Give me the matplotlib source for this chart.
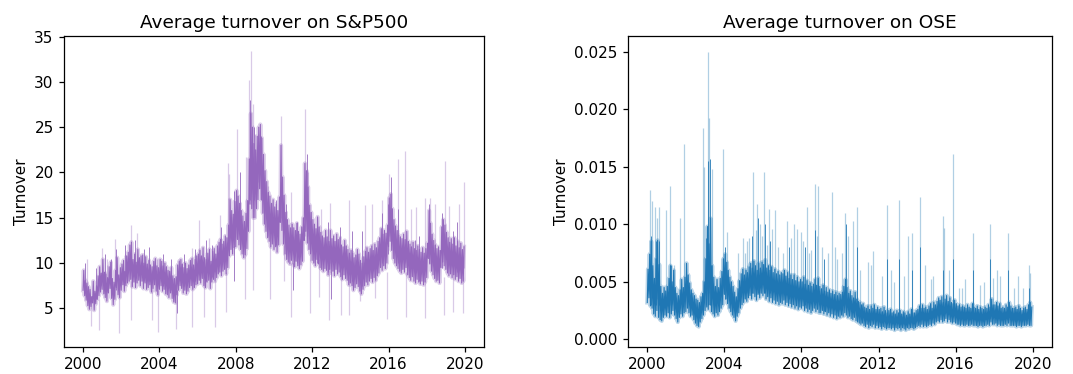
import numpy as np
import pandas as pd
import matplotlib
matplotlib.use("Agg")
import matplotlib.pyplot as plt
import matplotlib.dates as mdates

# ---------------- data (semi-monthly readings) ----------------
sp_2000 = [7.0,9.2,6.4,8.1,5.9,7.8,5.3,7.4,4.9,7.1,5.2,6.3,5.6,8.0,4.8,6.9,5.5,7.5,6.0,8.6,6.4,9.6,6.8,8.9]
sp_2001 = [7.1,10.4,6.6,9.0,6.2,8.8,5.8,8.4,6.7,9.6,7.2,10.1,6.1,8.3,5.4,7.9,6.0,9.2,7.3,10.6,6.5,8.7,6.2,9.5]
sp_2002 = [7.0,9.9,7.6,10.3,6.9,9.1,7.5,10.8,7.8,11.2,8.0,12.0,8.2,12.3,7.4,10.4,7.9,11.0,7.3,10.1,7.8,11.5,8.1,10.6]
sp_2003 = [7.5,10.8,8.0,10.9,7.2,10.0,7.8,10.7,7.1,9.9,7.3,10.3,7.6,9.8,6.8,9.6,7.2,10.2,7.6,10.5,6.9,9.7,6.5,9.5]
sp_2004 = [7.1,10.4,7.5,10.2,6.9,9.7,7.1,10.0,6.6,9.6,6.5,9.2,6.2,9.1,6.7,9.5,6.1,8.6,5.7,8.3,5.6,8.5,6.5,9.8]
sp_2005 = [7.0,10.2,7.5,10.4,7.2,9.9,6.7,9.5,7.0,10.0,6.6,9.4,6.9,9.8,7.3,10.3,7.5,10.5,7.1,9.8,7.3,10.4,7.6,10.8]
sp_2006 = [7.7,11.0,8.1,11.4,7.8,10.8,8.3,11.7,7.5,10.6,7.3,10.4,7.9,11.1,8.1,11.5,7.2,10.2,7.9,11.3,8.2,11.6,8.0,11.0]
sp_2007 = [8.4,11.9,8.8,12.3,9.0,12.6,8.6,12.1,9.1,12.4,9.3,13.0,8.8,12.8,9.5,14.2,10.8,17.0,11.5,15.8,11.0,15.4,11.7,16.8]
sp_2008 = [11.8,18.0,12.6,17.4,12.0,16.6,11.5,15.8,11.0,15.2,10.6,14.6,10.9,15.5,11.6,16.9,13.5,21.5,16.5,26.5,16.0,25.0,15.0,23.2]
sp_2009 = [15.0,22.5,16.0,24.0,17.0,25.0,18.2,25.3,17.0,23.8,15.5,22.0,14.3,20.2,13.5,19.0,12.8,17.8,12.4,17.4,11.8,16.6,12.1,17.0]
sp_2010 = [11.5,16.2,11.8,16.5,11.2,15.8,12.0,17.3,14.5,23.0,13.6,19.5,12.1,17.5,11.0,15.6,10.4,14.8,10.1,14.2,9.9,13.9,10.3,14.3]
sp_2011 = [9.9,13.9,9.6,13.6,10.2,14.4,9.7,13.5,9.4,13.2,9.8,14.0,10.2,15.0,12.5,21.0,13.5,20.2,12.2,18.4,11.5,16.4,11.0,15.6]
sp_2012 = [10.3,14.8,10.0,14.3,9.7,13.8,10.4,15.1,9.9,14.0,9.5,13.4,9.3,13.0,9.1,12.8,9.4,13.6,9.2,12.9,8.7,12.4,9.3,13.6]
sp_2013 = [8.9,12.7,9.1,13.0,8.6,12.4,9.3,13.2,8.8,12.6,9.0,12.8,8.5,12.0,8.2,11.8,8.7,12.5,8.3,11.9,8.1,11.5,7.6,11.1]
sp_2014 = [7.8,11.4,7.5,11.1,7.0,10.6,7.3,10.9,7.7,11.5,7.4,11.0,6.9,10.3,6.6,10.0,7.1,10.7,7.5,11.3,7.9,11.7,7.6,11.2]
sp_2015 = [8.0,11.6,8.3,11.9,7.9,11.4,8.4,12.1,8.1,11.7,8.6,12.4,8.9,12.8,9.5,13.8,9.2,13.2,9.7,13.6,9.4,13.3,10.0,14.2]
sp_2016 = [11.8,17.2,12.4,17.6,11.4,16.0,10.5,14.8,10.0,14.1,9.7,13.6,9.4,13.1,9.1,12.9,8.9,12.7,9.3,13.2,9.0,12.6,9.5,13.5]
sp_2017 = [8.7,12.4,8.4,12.1,8.1,11.8,8.5,12.3,8.0,11.6,7.8,11.4,8.2,11.9,7.9,11.5,7.7,11.2,8.0,11.7,7.6,11.1,7.9,11.6]
sp_2018 = [8.4,12.2,10.5,15.8,9.9,14.4,9.1,13.2,8.7,12.5,8.3,12.0,8.0,11.6,8.1,11.8,7.8,11.4,9.5,14.0,10.1,14.8,9.7,14.2]
sp_2019 = [9.3,13.4,8.9,12.8,8.6,12.3,8.8,12.7,8.4,12.1,8.7,12.8,8.2,11.9,8.5,12.4,8.0,11.7,8.3,12.2,7.8,11.5,8.0,11.8]

# OSE readings, in thousandths
ose_2000 = [3.2,6.1,3.6,7.4,2.9,8.5,2.7,6.4,2.2,5.3,2.0,7.0,2.5,8.6,1.9,6.5,1.7,4.6,1.6,4.0,1.9,4.5,2.1,4.2]
ose_2001 = [2.0,4.6,2.3,5.3,1.9,6.4,2.2,5.0,2.5,6.0,2.1,4.5,1.8,4.0,1.5,3.8,1.9,4.3,2.2,5.2,2.0,4.5,2.3,5.4]
ose_2002 = [2.4,6.6,2.7,5.6,2.3,4.9,2.0,4.3,2.1,4.0,1.7,3.8,1.4,3.5,1.2,3.4,1.1,3.2,1.5,3.7,1.8,4.0,2.1,5.0]
ose_2003 = [2.5,7.0,2.8,9.8,2.6,8.3,3.0,10.5,2.4,6.4,2.2,5.4,2.0,4.6,2.3,5.2,2.1,4.5,2.4,5.3,2.7,5.9,3.0,7.0]
ose_2004 = [3.9,7.4,3.5,6.7,3.1,6.0,2.7,5.4,2.4,5.0,2.1,4.6,1.9,4.1,1.6,3.7,2.0,4.4,2.3,5.1,2.7,5.7,3.0,6.1]
ose_2005 = [3.2,5.6,3.5,6.0,3.3,5.8,3.6,6.3,3.8,6.6,3.5,6.2,4.0,6.8,3.7,6.4,3.4,6.0,3.9,6.6,3.6,6.2,4.0,6.7]
ose_2006 = [3.8,6.5,4.0,6.9,3.5,6.2,3.7,6.4,3.3,6.0,3.6,6.3,3.2,5.8,3.4,6.1,3.1,5.7,3.3,5.9,3.0,5.6,3.2,5.8]
ose_2007 = [3.1,5.7,3.4,6.0,3.0,5.5,3.2,5.8,2.9,5.3,3.1,5.6,2.8,5.2,3.0,5.6,2.7,5.1,2.9,5.4,2.6,5.0,2.8,5.2]
ose_2008 = [2.7,5.0,2.9,5.4,2.5,4.8,2.7,5.1,2.4,4.7,2.6,4.9,2.3,4.6,2.5,4.8,2.7,5.2,2.4,4.7,2.6,5.3,2.3,4.6]
ose_2009 = [2.3,4.4,2.5,4.7,2.2,4.2,2.4,4.5,2.1,4.1,2.3,4.3,2.0,4.0,2.2,4.2,1.9,3.9,2.1,4.1,1.8,3.8,2.0,4.0]
ose_2010 = [1.9,3.9,2.1,4.1,2.0,4.6,2.3,5.2,2.1,4.5,1.9,4.0,2.0,4.2,1.8,3.8,1.7,3.6,1.9,4.1,1.6,3.5,1.5,3.3]
ose_2011 = [1.4,3.2,1.3,3.0,1.4,3.1,1.2,2.8,1.1,2.7,1.3,2.9,1.0,2.6,1.2,2.9,1.1,2.7,1.3,3.0,1.0,2.6,1.2,2.8]
ose_2012 = [1.0,2.6,1.1,2.7,0.9,2.4,1.1,2.8,1.0,2.5,0.9,2.3,1.0,2.5,1.0,2.6,0.9,2.3,1.0,2.4,0.8,2.2,1.0,2.5]
ose_2013 = [0.9,2.3,1.0,2.5,0.8,2.2,1.0,2.4,0.9,2.3,0.8,2.1,1.0,2.4,0.9,2.2,1.0,2.6,1.0,2.3,0.9,2.3,1.0,2.5]
ose_2014 = [1.1,2.6,1.2,2.9,1.1,2.7,1.3,3.0,1.1,2.7,1.2,2.8,1.1,2.6,1.2,2.9,1.3,3.1,1.2,2.7,1.4,3.2,1.3,3.0]
ose_2015 = [1.5,3.3,1.6,3.6,1.5,3.4,1.7,3.7,1.5,3.2,1.6,3.5,1.8,3.8,1.5,3.3,1.7,3.6,1.5,3.2,1.4,3.1,1.5,3.4]
ose_2016 = [1.4,3.1,1.3,2.9,1.3,3.0,1.2,2.8,1.3,2.9,1.2,2.8,1.2,2.7,1.3,3.0,1.2,2.8,1.2,2.7,1.3,3.1,1.2,2.8]
ose_2017 = [1.2,2.7,1.2,2.9,1.1,2.6,1.2,2.8,1.2,2.7,1.1,2.6,1.2,2.8,1.2,2.7,1.3,3.0,1.2,2.8,1.5,3.5,1.3,3.0]
ose_2018 = [1.3,3.0,1.4,3.2,1.2,2.9,1.3,3.1,1.2,2.7,1.2,2.8,1.2,2.7,1.3,3.0,1.2,2.8,1.4,3.2,1.2,2.9,1.2,2.7]
ose_2019 = [1.2,2.7,1.2,2.8,1.1,2.6,1.2,2.9,1.2,2.7,1.1,2.5,1.2,2.7,1.2,2.8,1.2,2.6,1.3,3.0,1.2,3.2,1.2,2.8]

# light spikes of the confidence band: (date, low end, high end)
sp_spike_dates = ["2000-03-10","2001-01-03","2001-04-10","2001-09-10","2002-07-05","2002-11-05","2003-11-10",
    "2005-01-10","2005-09-10","2006-01-20","2006-08-10","2007-02-27","2007-08-05","2007-08-20","2008-01-20",
    "2008-07-15","2008-09-15","2008-10-10","2008-11-20","2009-01-05","2009-03-10","2009-07-10","2009-09-10",
    "2010-05-06","2010-11-20","2011-08-08","2011-10-10","2012-06-10","2012-12-15","2013-12-10","2014-10-15",
    "2015-02-10","2015-08-24","2016-01-05","2016-06-24","2016-11-08","2017-03-10","2017-06-10","2017-12-01",
    "2018-03-10","2018-06-10","2018-12-21","2019-03-10","2019-09-10","2019-12-20",
    "2000-06-10","2000-11-10","2001-11-20","2002-07-01","2003-08-10","2003-11-28","2004-11-15","2005-09-15",
    "2006-05-10","2006-11-24","2007-07-03","2008-07-03","2008-11-28","2009-10-10","2010-07-10","2010-11-26",
    "2011-11-25","2012-05-10","2012-11-23","2013-07-03","2013-11-29","2014-07-03","2015-04-10","2015-11-27",
    "2016-11-25","2017-11-24","2018-11-23","2019-05-10","2019-11-29"]
sp_spike_lo = [7,8,8,8,9,9,8, 8,8.5,9,9,10,12,12,14, 13,18,20,19,19,19,14,13, 15,12,13,13,11,10,9,9,
    9.5,11,13,11,10,9.5,9.5,9, 11,9.5,12,10,9.5,9.5,
    3.1,2.6,2.3,3.7,3.7,2.4,2.7,3.0, 4.1,3.0,4.6,6,7,6,8,4.1, 4.5,6.3,3.7,4.3,4.3,5.8,6.2,3.8, 4.1,3.9,4.3,4.6,4.5]
sp_spike_hi = [10.5,11.7,10.5,12.7,14.2,13.3,10.5, 10.5,11.7,14.8,12.8,15.3,21,19.8,24.8, 21.7,30.2,33.4,27.6,24.3,24.2,19,18.5,
    26.2,17.9,27,20,16,16.6,17,16.4, 16.5,17,19.8,21.5,22.4,16,16.2,17.2, 17.2,16.5,21.3,16.3,16.5,19,
    6,6,7,8,8,7,7,7.5, 8,8,9,12,16,13,12,10, 11,10.5,9.5,9,8.5,8.5,9,9, 9,8.5,8.5,9,8.5]

# darker spikes of the mean line
sp_dark_dates = ["2000-02-15","2000-09-01","2001-02-15","2001-06-20","2001-10-01","2002-03-15","2002-09-20",
    "2003-03-20","2003-06-15","2004-03-15","2004-08-10","2005-04-20","2005-11-10","2006-06-15","2006-10-01",
    "2007-03-15","2007-11-20","2008-03-15","2008-10-01","2008-12-15","2009-04-20","2010-02-05","2010-08-10",
    "2011-03-15","2011-09-20","2012-04-10","2012-11-01","2013-06-20","2014-02-03","2014-08-05","2015-08-25",
    "2015-12-15","2016-02-10","2016-06-27","2017-05-17","2017-08-10","2018-02-06","2018-10-11","2019-05-13",
    "2019-08-05","2004-11-25","2007-11-23","2010-12-27","2012-12-24"]
sp_dark_lo = [7,6,7,6.5,7,8,8, 8,8,7.5,7,7.5,8,8,8.5, 9,12,12,17,17,17,12,11, 10,13,10,9,9,8,7.5,10,
    11,12,10,8,8,10,9.5,9, 9,4.5,8,7,6]
sp_dark_hi = [10,9.5,11,10.5,11.5,12,12.5, 11.5,11.8,11,10.5,11,11.5,12.5,12, 14,18,20,28,25,24,17,16.5,
    14.5,22,15,14.5,14,13.5,13.5,15.5, 16.5,19.5,16,12.5,13,16.5,15.5,13.5, 14.5,7,12,10,9]

ose_spike_dates = ["2000-03-01","2000-04-01","2000-05-25","2000-07-01","2000-08-10","2000-12-25","2001-03-10",
    "2001-05-25","2001-09-05","2001-12-05","2002-12-01","2002-12-20","2003-02-20","2003-03-25","2003-05-20",
    "2003-12-01","2004-02-28","2004-09-15","2004-12-28","2005-03-01","2005-07-05","2005-09-05","2005-11-10",
    "2006-01-22","2006-05-05","2006-08-15","2007-03-28","2007-10-01","2007-12-15","2008-04-08","2008-07-01",
    "2008-09-12","2008-11-18","2009-01-20","2009-07-25","2009-11-01","2010-04-05","2010-09-10","2010-11-10",
    "2011-06-20","2011-09-25","2012-06-01","2012-10-15","2013-01-25","2013-07-15","2013-09-20","2014-02-20",
    "2014-06-01","2014-09-20","2015-05-05","2015-06-01","2015-11-05","2016-03-01","2016-07-05","2016-11-30",
    "2017-04-05","2017-10-05","2017-12-15","2018-03-05","2018-09-20","2019-03-25","2019-10-15","2019-11-20",
    "2005-01-20","2005-04-10","2005-08-15","2005-12-10","2006-03-15","2006-06-20","2006-10-10","2007-01-15",
    "2007-06-10","2007-08-20","2008-01-25","2008-05-15","2008-10-15","2009-05-15","2009-09-20","2010-02-10",
    "2010-06-01","2011-01-20","2011-08-10","2012-03-01","2012-09-01","2013-05-01","2014-11-01","2015-09-01",
    "2016-05-01","2017-07-01","2018-05-01","2019-01-10","2019-07-01"]
ose_spike_lo = [4,4,3.5,3.5,3,2.5,3, 3,3,3.5,3.5,3.5,4,4,3.5, 4.5,4,3,3.5,4,4.5,5,4.5, 5,4.5,4.5,4,4,3.5,3.5,3.5,
    3.5,3.5,3,3,3,3,3,2.5, 2,2,2,1.8,1.8,1.7,1.7,2, 2,2,2.5,2.5,2.2,2,2,2, 2,2.2,2.2,2.2,2,2,2,2,
    4,4,4.5,4.5,4.5,4.5,4,4, 4,4,3.5,3.5,3.5,3,3,3, 3,2.5,2,2,1.8,1.8,2,2.2, 2,2,2,2,2]
ose_spike_hi = [13,12,11.5,10.5,11.5,11.2,13.3, 6.5,10.5,17,18.4,15,25,19.2,14.8, 16.5,9.3,7.5,8.8,8.5,14.5,11.8,10,
    14.5,11.3,11.2,10.3,9.6,9.3,11.5,7.8, 13.5,13.3,8,12.8,7,11,10.3,11.5, 6.7,7.7,11.7,5,12.1,9,9.2,12.4,
    6.5,5.2,10.7,9.7,16.1,4.5,5.2,9.2, 4.7,10,5.3,6,9.2,5.5,6.5,5.8,
    7.5,8.8,9.5,9,8.2,9.6,8,7.5, 8.8,10,8.5,7.5,9,7.5,8,7.5, 9,6,6.5,5.5,6,5.5,5.5,6, 4.5,5,5.5,4.5,4.5]

ose_dark_dates = ["2000-03-15","2000-06-15","2000-08-01","2001-03-20","2003-01-15","2003-02-25","2003-03-28",
    "2004-01-10","2005-06-10","2005-10-01","2006-02-01","2006-05-20","2007-05-15","2008-03-01","2008-09-20",
    "2009-03-01","2010-05-01","2010-11-15","2012-06-05","2013-01-30","2013-10-01","2014-02-25","2015-05-10",
    "2015-11-10","2016-12-05","2017-10-10","2018-09-25","2019-10-20"]
ose_dark_lo = [3,3,3,2.5,3,3,3, 3.5,4,4,4,4,3.5,3,3, 2.5,2.5,2.5,1.8,1.8,1.7,2,2.5, 2.2,2,2.2,2,2]
ose_dark_hi = [9,8.5,8.5,6.5,8.8,15.5,15.7, 8,9,10.5,10,8.5,8,8,9.5, 7,10,8,7,7,6,8,6, 7,6,7,6,4.5]

titles = ["Average turnover on S&P500", "Average turnover on OSE"]
colors = ["#9467bd", "#1f77b4"]

# ---------------- build series ----------------
dates = pd.date_range("2000-01-01", periods=480, freq="SMS")
sp_vals = np.concatenate([sp_2000, sp_2001, sp_2002, sp_2003, sp_2004, sp_2005, sp_2006, sp_2007, sp_2008, sp_2009,
                          sp_2010, sp_2011, sp_2012, sp_2013, sp_2014, sp_2015, sp_2016, sp_2017, sp_2018, sp_2019])
ose_vals = np.concatenate([ose_2000, ose_2001, ose_2002, ose_2003, ose_2004, ose_2005, ose_2006, ose_2007, ose_2008,
                           ose_2009, ose_2010, ose_2011, ose_2012, ose_2013, ose_2014, ose_2015, ose_2016, ose_2017,
                           ose_2018, ose_2019]) / 1000.0

series = [
    (sp_vals, pd.to_datetime(sp_spike_dates), np.array(sp_spike_lo, float), np.array(sp_spike_hi, float),
     pd.to_datetime(sp_dark_dates), np.array(sp_dark_lo, float), np.array(sp_dark_hi, float)),
    (ose_vals, pd.to_datetime(ose_spike_dates), np.array(ose_spike_lo, float) / 1000.0,
     np.array(ose_spike_hi, float) / 1000.0,
     pd.to_datetime(ose_dark_dates), np.array(ose_dark_lo, float) / 1000.0, np.array(ose_dark_hi, float) / 1000.0),
]

fig = plt.figure(figsize=(10.73, 3.74), dpi=100)
positions = [[0.0596, 0.0722, 0.3915, 0.8315], [0.5853, 0.0722, 0.3951, 0.8315]]
ylims = [(0.74, 35.06), (-0.00067, 0.02636)]

for i in range(2):
    ax = fig.add_axes(positions[i])
    vals, sd, slo, shi, dd, dlo, dhi = series[i]
    c = colors[i]
    ax.vlines(sd, slo, shi, color=c, alpha=0.35, linewidth=0.9)
    ax.plot(dates, vals, color=c, alpha=0.3, linewidth=3.0)
    ax.plot(dates, vals, color=c, linewidth=0.8)
    ax.vlines(dd, dlo, dhi, color=c, alpha=0.85, linewidth=0.7)
    ax.set_title(titles[i], fontsize=13.3)
    ax.set_ylabel("Turnover", fontsize=11)
    ax.set_xlim(mdates.date2num(pd.Timestamp("1999-01-01")), mdates.date2num(pd.Timestamp("2021-01-01")))
    ax.set_ylim(*ylims[i])
    ax.xaxis.set_major_locator(mdates.YearLocator(4))
    ax.xaxis.set_major_formatter(mdates.DateFormatter("%Y"))
    ax.tick_params(labelsize=11, length=3.9, width=0.9)
    for s in ax.spines.values():
        s.set_linewidth(0.9)

fig.savefig("out.png", dpi=100)
